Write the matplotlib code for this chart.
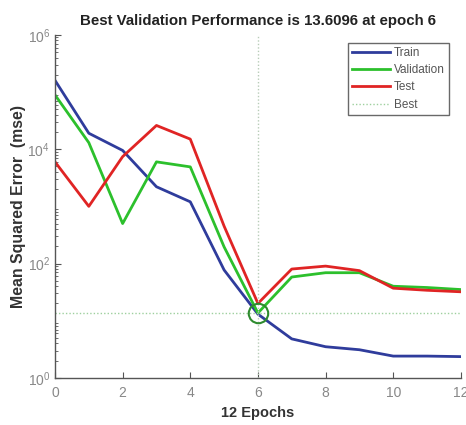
import matplotlib
matplotlib.use("Agg")
import matplotlib.pyplot as plt
import numpy as np
from matplotlib.ticker import LogLocator, NullFormatter, FixedLocator

plt.rcParams["font.family"] = ["Liberation Sans", "DejaVu Sans"]
plt.rcParams["mathtext.fontset"] = "custom"
plt.rcParams["mathtext.rm"] = "Liberation Sans"

epochs = [0, 1, 2, 3, 4, 5, 6, 7, 8, 9, 10, 11, 12]
train = [1.6e5, 1.9e4, 9.5e3, 2.2e3, 1.2e3, 77, 13, 4.8, 3.5, 3.1, 2.4, 2.4, 2.35]
validation = [8.9e4, 1.3e4, 500, 6000, 4900, 195, 13.6096, 58, 69, 69, 40, 38, 35]
test = [6000, 1000, 7400, 2.6e4, 1.5e4, 450, 20, 80, 90, 75, 37, 34, 32]
best_epoch = 6
best_value = 13.6096
xticks = [0, 2, 4, 6, 8, 10, 12]
yticks = [1e0, 1e2, 1e4, 1e6]

fig = plt.figure(figsize=(4.66, 4.25), dpi=100)
ax = fig.add_axes([0.118, 0.111, 0.871, 0.807])

blue = "#2f3c9c"
green = "#2cc02c"
red = "#e02424"
bestc = "#9ed09e"

ax.plot(epochs, train, color=blue, lw=2.0, label="Train")
ax.plot(epochs, validation, color=green, lw=2.0, label="Validation")
ax.plot(epochs, test, color=red, lw=2.0, label="Test")
ax.axhline(best_value, color=bestc, lw=1.0, ls=(0, (1, 1.5)), label="Best")
ax.axvline(best_epoch, color="#b8ccb8", lw=1.0, ls=(0, (1, 1.5)))
ax.plot([best_epoch], [best_value], marker="o", ms=14, mfc="none", mec="#2e8b2e", mew=1.5)

ax.set_yscale("log")
ax.set_xlim(0, 12)
ax.set_ylim(1, 1e6)
ax.xaxis.set_major_locator(FixedLocator(xticks))
ax.yaxis.set_major_locator(FixedLocator(yticks))
ax.yaxis.set_minor_locator(LogLocator(base=10, subs=np.arange(2, 10), numticks=20))
ax.yaxis.set_minor_formatter(NullFormatter())

for s in ["top", "right"]:
    ax.spines[s].set_visible(False)
for s in ["left", "bottom"]:
    ax.spines[s].set_color("#555555")
    ax.spines[s].set_linewidth(1.0)

ax.tick_params(axis="both", which="major", direction="in", length=4, colors="#555555",
               labelcolor="#888888", labelsize=10)
ax.tick_params(axis="y", which="minor", direction="in", length=2, colors="#555555")
ax.tick_params(axis="x", pad=6)

ax.set_title("Best Validation Performance is 13.6096 at epoch 6", fontsize=10.8,
             fontweight="bold", pad=7, color="#222222")
ax.set_xlabel("12 Epochs", fontsize=10.5, fontweight="bold", color="#333333", labelpad=4)
ax.set_ylabel("Mean Squared Error  (mse)", fontsize=11.4, fontweight="bold", color="#333333", labelpad=1)

leg = ax.legend(loc="upper right", bbox_to_anchor=(0.970, 0.977), fontsize=8.5,
                frameon=True, fancybox=False, edgecolor="#444444", handlelength=3.2,
                handletextpad=0.35, borderpad=0.35, labelspacing=0.45, borderaxespad=0)
leg.get_frame().set_linewidth(1.0)
for t in leg.get_texts():
    t.set_color("#555555")

fig.savefig("out.png", dpi=100)
